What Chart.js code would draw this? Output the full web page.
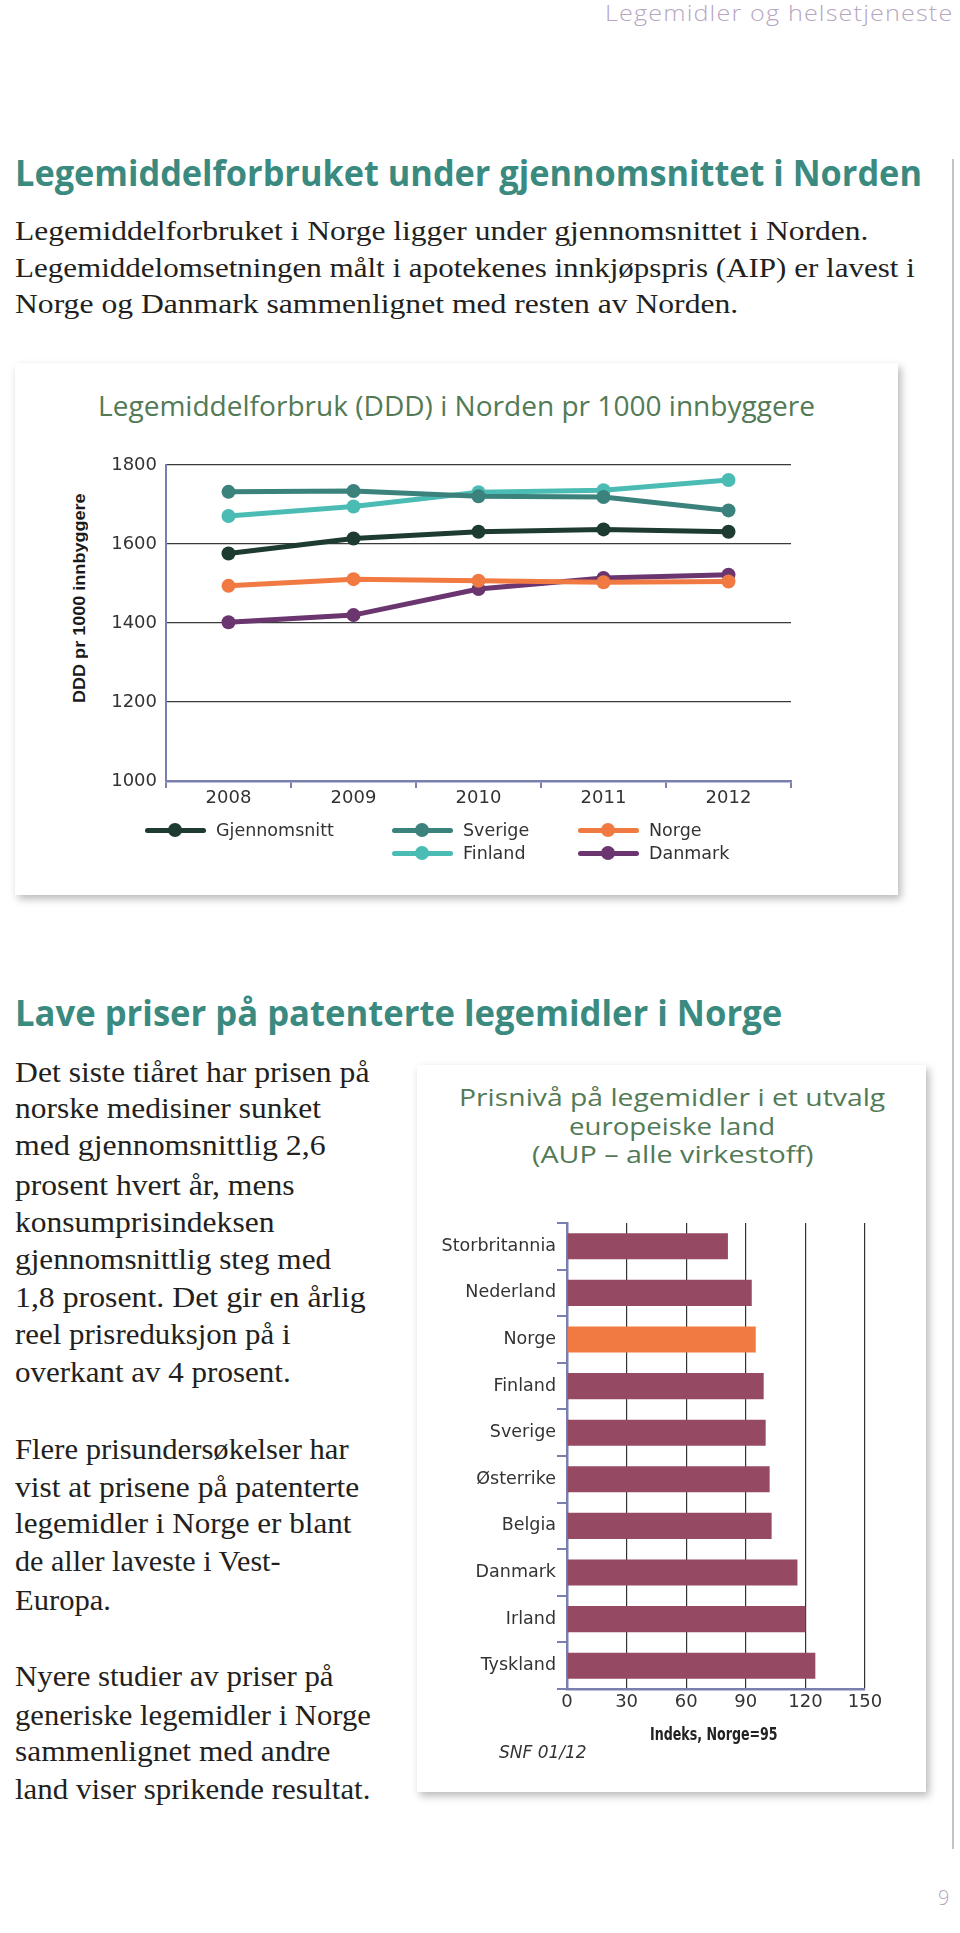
<!DOCTYPE html>
<html lang="no">
<head>
<meta charset="utf-8">
<title>Legemidler og helsetjeneste</title>
<script src="https://cdn.jsdelivr.net/npm/chart.js@4.4.1/dist/chart.umd.min.js"></script>
<style>
  html, body { margin: 0; padding: 0; background: #fff; }
  body { position: relative; width: 960px; height: 1933px; overflow: hidden; }
  .t { position: absolute; white-space: nowrap; transform-origin: 0 50%; }
  .serif { font-family: "Liberation Serif", serif; color: #231f20; }
  .head { font-family: "Open Sans", sans-serif; font-weight: 700; color: #3a8a80; }
  .ctitle { font-family: "Open Sans", sans-serif; color: #527a56; }
  .sans { font-family: "DejaVu Sans", sans-serif; color: #333; }
  .box { position: absolute; background: #fff; box-shadow: 3px 4px 8px rgba(0,0,0,0.28); }
  canvas { position: absolute; }
</style>
</head>
<body>
<div class="box" style="left:15px;top:363px;width:883px;height:532px"></div>
<div class="box" style="left:417px;top:1065px;width:509px;height:727px"></div>
<div style="position:absolute;left:952px;top:159px;width:1.5px;height:1690px;background:#c4c4c4"></div>
<canvas id="lineChart" width="740" height="380" style="left:100px;top:440px"></canvas>
<canvas id="barChart" width="490" height="540" style="left:420px;top:1200px"></canvas>
<script>
// Legemiddelforbruk (DDD) pr 1000 innbyggere
const years = ['2008', '2009', '2010', '2011', '2012'];
const gjennomsnitt = [1576, 1614, 1631, 1637, 1631];
const sverige = [1732, 1734, 1721, 1719, 1685];
const finland = [1671, 1695, 1731, 1736, 1762];
const norge = [1494, 1511, 1507, 1503, 1505];
const danmark = [1402, 1420, 1486, 1514, 1522];
const dddTicks = [1000, 1200, 1400, 1600, 1800];

// Prisnivå, indeks Norge=95
const land = ['Storbritannia', 'Nederland', 'Norge', 'Finland', 'Sverige', 'Østerrike', 'Belgia', 'Danmark', 'Irland', 'Tyskland'];
const prisindeks = [81, 93, 95, 99, 100, 102, 103, 116, 120, 125];
const indeksTicks = [0, 30, 60, 90, 120, 150];

const slate = '#7b7fb0';
const orange = '#f07a42';
const maroon = '#964962';

function txt(s, x, cy, w, size, cls, extra, parent) {
  const el = document.createElement('div');
  el.className = 't ' + cls;
  el.textContent = s;
  const lh = Math.round(size * 1.4);
  el.style.cssText += 'left:' + x + 'px;top:' + (cy - lh / 2) + 'px;font-size:' + size + 'px;line-height:' + lh + 'px;' + (extra || '');
  (parent || document.body).appendChild(el);
  if (w) {
    const nat = el.offsetWidth;
    el.style.transform = 'scaleX(' + (w / nat) + ')';
  }
  return el;
}

// page header and headings
txt('Legemidler og helsetjeneste', 605, 12.5, 348, 22, '', 'font-family:"Open Sans",sans-serif;font-weight:300;color:#b7a6bf;letter-spacing:1px');
txt('Legemiddelforbruket under gjennomsnittet i Norden', 15, 173, 907, 36, 'head');
txt('Legemiddelforbruket i Norge ligger under gjennomsnittet i Norden.', 15, 230.5, 853, 28, 'serif');
txt('Legemiddelomsetningen målt i apotekenes innkjøpspris (AIP) er lavest i', 15, 267.5, 900, 28, 'serif');
txt('Norge og Danmark sammenlignet med resten av Norden.', 15, 303.5, 723, 28, 'serif');

txt('Legemiddelforbruk (DDD) i Norden pr 1000 innbyggere', 98, 406, 717, 27, 'ctitle');

// rotated y title: fit first, rotate afterwards
const ywrap = document.createElement('div');
ywrap.style.cssText = 'position:absolute;left:' + (79 - 105) + 'px;top:' + (598 - 11) + 'px;width:210px;height:22px;transform-origin:50% 50%';
document.body.appendChild(ywrap);
txt('DDD pr 1000 innbyggere', 0, 11, 210, 16.5, '', 'font-family:"Liberation Sans",sans-serif;font-weight:700;color:#1a1a1a', ywrap);
ywrap.style.transform = 'rotate(-90deg)';

txt('Lave priser på patenterte legemidler i Norge', 15, 1012, 767, 35, 'head');

const body2 = [
  ['Det siste tiåret har prisen på', 1072, 355],
  ['norske medisiner sunket', 1108, 306],
  ['med gjennomsnittlig 2,6', 1145, 311],
  ['prosent hvert år, mens', 1185, 280],
  ['konsumprisindeksen', 1222, 259],
  ['gjennomsnittlig steg med', 1259, 316],
  ['1,8 prosent. Det gir en årlig', 1297, 351],
  ['reel prisreduksjon på i', 1334, 276],
  ['overkant av 4 prosent.', 1372, 276],
  ['Flere prisundersøkelser har', 1449, 334],
  ['vist at prisene på patenterte', 1487, 344],
  ['legemidler i Norge er blant', 1523, 337],
  ['de aller laveste i Vest-', 1561, 266],
  ['Europa.', 1600, 96],
  ['Nyere studier av priser på', 1676, 319],
  ['generiske legemidler i Norge', 1715, 356],
  ['sammenlignet med andre', 1751, 316],
  ['land viser sprikende resultat.', 1789, 355]
];
body2.forEach(l => txt(l[0], 15, l[1], l[2], 29, 'serif'));

txt('Prisnivå på legemidler i et utvalg', 672 - 213, 1097, 426, 24, 'ctitle');
txt('europeiske land', 672 - 103, 1126, 206, 24, 'ctitle');
txt('(AUP – alle virkestoff)', 672 - 140, 1154, 281, 24, 'ctitle');
txt('Indeks, Norge=95', 650, 1734, 128, 17, '', 'font-family:"Liberation Sans Narrow","DejaVu Sans Condensed",sans-serif;font-weight:700;color:#222');
txt('SNF 01/12', 499, 1752, 88, 17, 'sans', 'font-style:italic');
txt('9', 938, 1898, 0, 20, '', 'font-family:"Open Sans",sans-serif;font-weight:300;color:#b7a6bf');

// line chart
const series = [
  { label: 'Gjennomsnitt', data: gjennomsnitt, color: '#1d3b30', pos: [145, 830] },
  { label: 'Sverige', data: sverige, color: '#3b827c', pos: [392, 830] },
  { label: 'Finland', data: finland, color: '#4bbcb4', pos: [392, 853] },
  { label: 'Norge', data: norge, color: orange, pos: [578, 830] },
  { label: 'Danmark', data: danmark, color: '#6b3570', pos: [578, 853] }
];

const tickFont = { family: 'DejaVu Sans', size: 18 };

new Chart(document.getElementById('lineChart'), {
  type: 'line',
  data: {
    labels: years,
    datasets: series.map(s => ({
      label: s.label,
      data: s.data,
      borderColor: s.color,
      backgroundColor: s.color,
      pointBackgroundColor: s.color,
      borderWidth: 5,
      pointRadius: 7,
      pointHoverRadius: 7,
      pointBorderWidth: 0,
      tension: 0
    }))
  },
  options: {
    responsive: false,
    animation: false,
    devicePixelRatio: 1,
    layout: { padding: { left: 0, top: 25, right: 49, bottom: 0 }, autoPadding: false },
    plugins: { legend: { display: false }, tooltip: { enabled: false } },
    scales: {
      x: {
        offset: true,
        grid: { offset: true, drawOnChartArea: false, color: slate, lineWidth: 2, tickLength: 7 },
        border: { color: slate, width: 2.5 },
        ticks: { font: tickFont, color: '#333', padding: 0 },
        afterFit: s => { s.height = 39; }
      },
      y: {
        min: 1000,
        max: 1800,
        afterBuildTicks: s => { s.ticks = dddTicks.map(v => ({ value: v })); },
        grid: { color: '#3a3a3a', lineWidth: 1.2, drawTicks: false },
        border: { color: slate, width: 2 },
        ticks: { font: tickFont, color: '#333', padding: 9, callback: v => String(v) },
        afterFit: s => { s.width = 66; }
      }
    }
  }
});

// legend for the line chart
series.forEach(s => {
  const x = s.pos[0], y = s.pos[1];
  const line = document.createElement('div');
  line.style.cssText = 'position:absolute;left:' + x + 'px;top:' + (y - 2.5) + 'px;width:61px;height:5px;border-radius:2.5px;background:' + s.color;
  document.body.appendChild(line);
  const dot = document.createElement('div');
  dot.style.cssText = 'position:absolute;left:' + (x + 23) + 'px;top:' + (y - 7) + 'px;width:14px;height:14px;border-radius:7px;background:' + s.color;
  document.body.appendChild(dot);
  txt(s.label, x + 71, y, 0, 17.5, 'sans');
});

// bar chart
new Chart(document.getElementById('barChart'), {
  type: 'bar',
  data: {
    labels: land,
    datasets: [{
      data: prisindeks,
      backgroundColor: land.map(l => l === 'Norge' ? orange : maroon),
      barPercentage: 0.56,
      categoryPercentage: 1
    }]
  },
  options: {
    indexAxis: 'y',
    responsive: false,
    animation: false,
    devicePixelRatio: 1,
    layout: { padding: { left: 0, top: 23, right: 45, bottom: 0 }, autoPadding: false },
    plugins: { legend: { display: false }, tooltip: { enabled: false } },
    scales: {
      x: {
        min: 0,
        max: 150,
        afterBuildTicks: s => { s.ticks = indeksTicks.map(v => ({ value: v })); },
        grid: { color: '#333', lineWidth: 1.2, drawTicks: false },
        border: { color: slate, width: 2.5 },
        ticks: { font: tickFont, color: '#333', padding: 3 },
        afterFit: s => { s.height = 51; }
      },
      y: {
        grid: { offset: true, drawOnChartArea: false, color: slate, lineWidth: 2, tickLength: 10 },
        border: { color: slate, width: 2.5 },
        ticks: { font: { family: 'DejaVu Sans', size: 17.5 }, color: '#333', padding: 1 },
        afterFit: s => { s.width = 147; }
      }
    }
  }
});
</script>
</body>
</html>
